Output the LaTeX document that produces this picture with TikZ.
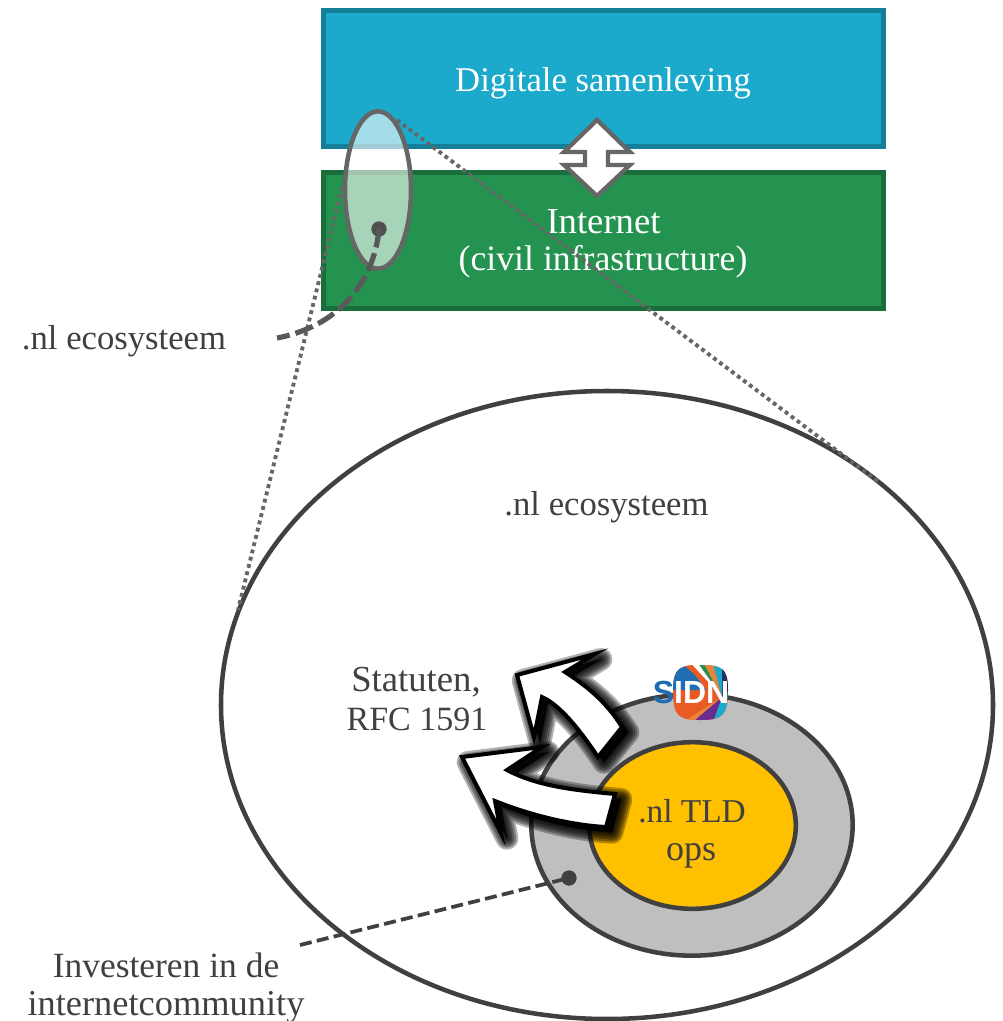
\documentclass[tikz,border=0pt]{standalone}
\usepackage{fontspec}
\setmainfont{Liberation Serif}
\newfontfamily\logofont{Liberation Sans}
\usetikzlibrary{shapes.geometric,calc}
\definecolor{txt}{HTML}{404040}
\definecolor{ringc}{HTML}{404040}
\definecolor{linec}{HTML}{666666}
\definecolor{dashc}{HTML}{595959}
\definecolor{blueF}{HTML}{1BAACC}
\definecolor{blueD}{HTML}{157F99}
\definecolor{greenF}{HTML}{23934F}
\definecolor{greenD}{HTML}{1A6E3B}
\definecolor{grayF}{HTML}{BFBFBF}
\definecolor{gold}{HTML}{FFC000}
\definecolor{lgOrange}{HTML}{E95B22}
\definecolor{lgBlue}{HTML}{1F6DB3}
\definecolor{lgAmber}{HTML}{E9843A}
\definecolor{lgCyan}{HTML}{1BAACC}
\definecolor{lgNavy}{HTML}{1F2F6B}
\definecolor{lgGreen}{HTML}{23934F}
\definecolor{lgPurple}{HTML}{6A2C8E}
\newcommand{\fs}[1]{\fontsize{#1}{#1}\selectfont}
\tikzset{
  band/.style={draw,line width=3.4pt,minimum width=420pt,minimum height=102pt,inner sep=0pt},
  ring/.style={ellipse,draw=ringc,line width=3.4pt,inner sep=0pt},
  label/.style={text=txt,anchor=base,inner sep=0pt,font=\fs{26}},
  bandtext/.style={text=white,anchor=base,inner sep=0pt},
  pin/.style={circle,fill=#1,inner sep=0pt,minimum size=11.5pt},
  dotline/.style={draw=linec,line width=2.9pt,dash pattern=on 2.9pt off 2.7pt},
}
\newcommand{\arrowone}{(598,757) .. controls (580,730) and (560,705) .. (542,697) -- (534,737) -- (517,675) -- (595,654) -- (565,672) .. controls (585,685) and (605,700) .. (622,727) -- cycle}
\newcommand{\arrowtwo}{(606,827) .. controls (570,825) and (530,815) .. (495,801) -- (501,833) -- (462,757) -- (542,747) -- (507,770) .. controls (535,785) and (570,790) .. (615,794) -- cycle}
\newcommand{\softshadow}[1]{%
  \foreach \w in {17,14,11,8,5,2}{%
    \draw[black,fill=black,opacity=.3,line width=\w pt,line join=round,xshift=4.5pt,yshift=-4pt] #1;}}
\begin{document}
\begin{tikzpicture}[x=0.75pt,y=-0.75pt]
\useasboundingbox (0,0) rectangle (1003,1021);
\clip (0,0) rectangle (1003,1021);
% top bands
\node[band,draw=blueD,fill=blueF] (soc) at (603.5,78.5) {};
\node[bandtext,font=\fs{26}] (soct) at (603,91) {Digitale samenleving};
\node[band,draw=greenD,fill=greenF] (net) at (603.5,240.5) {};
\node[bandtext,font=\fs{27.5}] (nett1) at (603.5,233) {Internet};
\node[bandtext,font=\fs{26.8}] (nett2) at (603,270) {(civil infrastructure)};
% double arrow
\draw[linec,fill=white,line width=3.2pt,miter limit=10]
  (597,120) -- (630,152) -- (608,152) -- (608,165) -- (630,165) -- (597,196)
  -- (564,165) -- (585,165) -- (585,152) -- (564,152) -- cycle;
% small ellipse
\node[ellipse,draw=linec,fill=white,fill opacity=.6,line width=3.4pt,minimum width=49.5pt,minimum height=118pt,inner sep=0pt] (eco) at (378,190) {};
\node[pin=dashc!90!black,minimum size=11.5pt] (ecodot) at (379,229) {};
% big ellipse
\coordinate (zr) at (397,120);
\coordinate (zl) at (342,187);
\node[ring,fill=white,minimum width=579pt,minimum height=471pt] (big) at (607,705) {};
\coordinate (zre) at (880,483);
\coordinate (zle) at (238,610);
\draw[dotline] (zr) -- (zre);
\draw[dotline] (zl) -- (zle);
% dashed curve
\coordinate (ecoend) at (277,338);
\draw[dashc,line width=3.9pt,dash pattern=on 14pt off 4.5pt] (ecodot.center) .. controls (375,275) and (345,325) .. (ecoend);
\node[label] (l1) at (124,349) {.nl ecosysteem};
\node[label] (l2) at (606.5,515) {.nl ecosysteem};
% inner rings
\node[ring,fill=grayF,minimum width=241pt,minimum height=196pt] (sidn) at (692,825) {};
\node[ring,fill=gold,minimum width=155pt,minimum height=125pt] (tld) at (692.5,825.5) {};
\node[label,font=\fs{25}] (tldt1) at (692,822) {.nl TLD};
\node[label,font=\fs{27}] (tldt2) at (691,860) {ops};
\node[pin=ringc,minimum size=11.5pt] (invdot) at (569,878) {};
\coordinate (invend) at (300,945);
\draw[ringc,line width=2.8pt,dash pattern=on 9pt off 4pt] (invend) -- (invdot.center);
\node[label,font=\fs{27.5}] (stat1) at (416,691) {Statuten,};
\node[label,font=\fs{25.5}] (stat2) at (417,730) {RFC 1591};
\node[label,font=\fs{26.6}] (inv1) at (166,977) {Investeren in de};
\node[label,font=\fs{27.3}] (inv2) at (166,1015) {internetcommunity};
% logo
\begin{scope}
  \clip (673,690) .. controls (673,668) and (680,665) .. (700,665) .. controls (722,665) and (728,668) .. (728,690) .. controls (728,716) and (722,720) .. (700,720) .. controls (678,720) and (673,716) .. (673,690) -- cycle;
  \fill[lgOrange] (670,660) rectangle (732,724);
  \fill[lgBlue] (670,660) -- (684,660) -- (706,690) -- (670,690) -- cycle;
  \fill[lgOrange] (678,660) -- (688,660) -- (718,695) -- cycle;
  \fill[white] (688,660) -- (696,660) -- (722,697) -- cycle;
  \fill[lgGreen] (696,660) -- (702,660) -- (722,697) -- cycle;
  \fill[lgAmber] (702,660) -- (712,660) -- (722,697) -- cycle;
  \fill[lgCyan] (712,660) -- (722,660) -- (722,697) -- cycle;
  \fill[lgNavy] (722,660) -- (732,660) -- (732,690) -- (722,697) -- cycle;
  \fill[lgGreen] (732,688) -- (732,705) -- (722,697) -- cycle;
  \fill[lgCyan] (722,697) -- (732,712) -- (732,724) -- (712,724) -- cycle;
  \fill[lgPurple] (722,697) -- (712,724) -- (690,724) -- cycle;
  \fill[lgAmber] (722,697) -- (690,724) -- (680,724) -- cycle;
\end{scope}
\node[inner sep=0pt,font=\logofont\bfseries\fs{24}] (logo) at (691,692)
  {\textcolor{lgBlue}{S}\textcolor{white}{IDN}};
% feedback arrows
\softshadow{\arrowone}
\draw[black,fill=white,line width=3pt,line join=miter] \arrowone;
\softshadow{\arrowtwo}
\draw[black,fill=white,line width=3pt,line join=miter] \arrowtwo;
\end{tikzpicture}
\end{document}
